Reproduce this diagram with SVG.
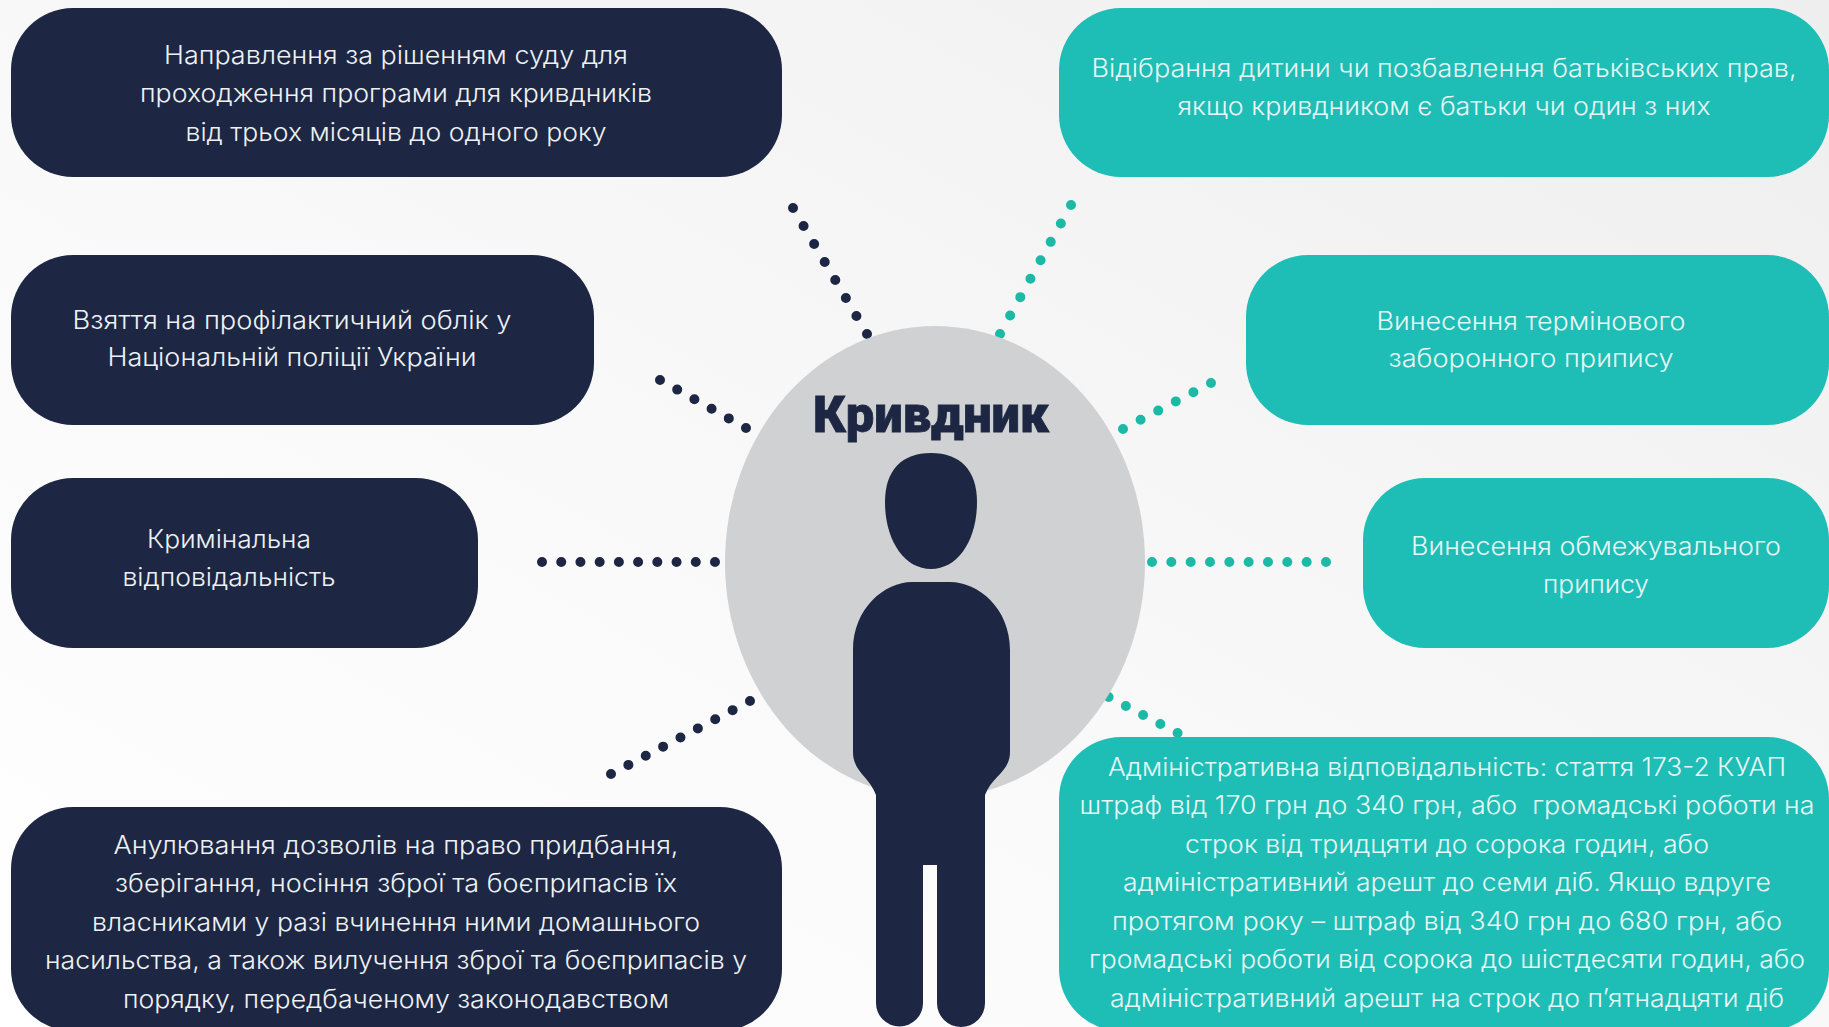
<svg xmlns="http://www.w3.org/2000/svg" width="1829" height="1027" viewBox="0 0 1829 1027">
<defs>
<linearGradient id="bg" x1="1" y1="0" x2="0" y2="1">
<stop offset="0" stop-color="#eeeeef"/><stop offset="0.55" stop-color="#f9f9f9"/><stop offset="1" stop-color="#ffffff"/>
</linearGradient>
</defs>
<style>
.dk{fill:#1d2743}
.tl{fill:#1ebdb6}
text{font-family:"Inter","Noto Sans","Liberation Sans",sans-serif;font-weight:300;font-size:25px;text-anchor:middle}
.dk-t{fill:#eef1f3}
.tl-t{fill:#e6f7f5}
.d{fill:none;stroke-width:10;stroke-linecap:round;stroke-dasharray:0 1}
.dd{stroke:#1d2743}
.dt{stroke:#1cbaa6}
.title{font-family:"Roboto","Liberation Sans",sans-serif;font-weight:900;font-size:50px;fill:#1d2743;stroke:#1d2743;stroke-width:0.8}
</style>
<rect width="1829" height="1027" fill="url(#bg)"/>
<g id="connectors">
<line class="d dd" pathLength="7.001" x1="793" y1="208" x2="867" y2="334"/>
<line class="d dt" pathLength="7.001" x1="1071" y1="205" x2="1000" y2="334"/>
<line class="d dd" pathLength="5.001" x1="660" y1="380" x2="746" y2="428"/>
<line class="d dt" pathLength="5.001" x1="1123" y1="429" x2="1211" y2="383"/>
<line class="d dd" pathLength="9.001" x1="542" y1="562" x2="715" y2="562"/>
<line class="d dt" pathLength="9.001" x1="1152" y1="562" x2="1326" y2="562"/>
<line class="d dd" pathLength="8.001" x1="611" y1="774" x2="750" y2="701"/>
<line class="d dt" pathLength="4.001" x1="1108.6" y1="697" x2="1177.6" y2="733"/>
</g>
<g id="center">
<ellipse cx="935" cy="562" rx="210" ry="236" fill="#d0d1d3"/>
<text class="title" x="931" y="432" textLength="236" lengthAdjust="spacingAndGlyphs">Кривдник</text>
<path class="dk" d="M931 453C960 453 977 470 977 502C977 540 958 569 931 569C904 569 885 540 885 502C885 470 902 453 931 453Z"/>
<path class="dk" d="M853 650C853 608 885 582 912 582L950 582C978 582 1010 608 1010 650L1010 752C1010 772 992 776 985 795L985 1003A24 24 0 0 1 937 1003L937 865L923 865L923 1003A23.5 23.5 0 0 1 876 1003L876 795C869 776 853 772 853 752Z"/>
</g>
<g id="n1"><rect class="dk" x="11" y="8" width="771" height="169" rx="62"/>
<text class="dk-t" x="396" y="64" textLength="464" lengthAdjust="spacingAndGlyphs">Направлення за рішенням суду для</text>
<text class="dk-t" x="396" y="102" textLength="512" lengthAdjust="spacingAndGlyphs">проходження програми для кривдників</text>
<text class="dk-t" x="396" y="141" textLength="421" lengthAdjust="spacingAndGlyphs">від трьох місяців до одного року</text></g>
<g id="n2"><rect class="dk" x="11" y="255" width="583" height="170" rx="62"/>
<text class="dk-t" x="292" y="329" textLength="439" lengthAdjust="spacingAndGlyphs">Взяття на профілактичний облік у</text>
<text class="dk-t" x="292" y="366" textLength="369" lengthAdjust="spacingAndGlyphs">Національній поліції України</text></g>
<g id="n3"><rect class="dk" x="11" y="478" width="467" height="170" rx="62"/>
<text class="dk-t" x="229" y="548" textLength="164" lengthAdjust="spacingAndGlyphs">Кримінальна</text>
<text class="dk-t" x="229" y="586" textLength="213" lengthAdjust="spacingAndGlyphs">відповідальність</text></g>
<g id="n4"><rect class="dk" x="11" y="807" width="771" height="224" rx="62"/>
<text class="dk-t" x="396" y="854" textLength="565" lengthAdjust="spacingAndGlyphs">Анулювання дозволів на право придбання,</text>
<text class="dk-t" x="396" y="892" textLength="562" lengthAdjust="spacingAndGlyphs">зберігання, носіння зброї та боєприпасів їх</text>
<text class="dk-t" x="396" y="931" textLength="608" lengthAdjust="spacingAndGlyphs">власниками у разі вчинення ними домашнього</text>
<text class="dk-t" x="396" y="969" textLength="702" lengthAdjust="spacingAndGlyphs">насильства, а також вилучення зброї та боєприпасів у</text>
<text class="dk-t" x="396" y="1008" textLength="546" lengthAdjust="spacingAndGlyphs">порядку, передбаченому законодавством</text></g>
<g id="n5"><rect class="tl" x="1059" y="8" width="770" height="169" rx="62"/>
<text class="tl-t" x="1444" y="77" textLength="705" lengthAdjust="spacingAndGlyphs">Відібрання дитини чи позбавлення батьківських прав,</text>
<text class="tl-t" x="1444" y="115" textLength="533" lengthAdjust="spacingAndGlyphs">якщо кривдником є батьки чи один з них</text></g>
<g id="n6"><rect class="tl" x="1246" y="255" width="583" height="170" rx="62"/>
<text class="tl-t" x="1531" y="330" textLength="309" lengthAdjust="spacingAndGlyphs">Винесення термінового</text>
<text class="tl-t" x="1531" y="367" textLength="285" lengthAdjust="spacingAndGlyphs">заборонного припису</text></g>
<g id="n7"><rect class="tl" x="1363" y="478" width="466" height="170" rx="62"/>
<text class="tl-t" x="1596" y="555" textLength="370" lengthAdjust="spacingAndGlyphs">Винесення обмежувального</text>
<text class="tl-t" x="1596" y="593" textLength="106" lengthAdjust="spacingAndGlyphs">припису</text></g>
<g id="n8"><rect class="tl" x="1059" y="737" width="770" height="294" rx="62"/>
<text class="tl-t" x="1447" y="776" textLength="678" lengthAdjust="spacingAndGlyphs">Адміністративна відповідальність: стаття 173-2 КУАП</text>
<text class="tl-t" x="1447" y="814" textLength="735" lengthAdjust="spacingAndGlyphs" style="white-space:pre">штраф від 170 грн до 340 грн, або  громадські роботи на</text>
<text class="tl-t" x="1447" y="853" textLength="524" lengthAdjust="spacingAndGlyphs">строк від тридцяти до сорока годин, або</text>
<text class="tl-t" x="1447" y="891" textLength="648" lengthAdjust="spacingAndGlyphs">адміністративний арешт до семи діб. Якщо вдруге</text>
<text class="tl-t" x="1447" y="930" textLength="670" lengthAdjust="spacingAndGlyphs">протягом року – штраф від 340 грн до 680 грн, або</text>
<text class="tl-t" x="1447" y="968" textLength="716" lengthAdjust="spacingAndGlyphs">громадські роботи від сорока до шістдесяти годин, або</text>
<text class="tl-t" x="1447" y="1007" textLength="674" lengthAdjust="spacingAndGlyphs">адміністративний арешт на строк до п’ятнадцяти діб</text></g>
</svg>
